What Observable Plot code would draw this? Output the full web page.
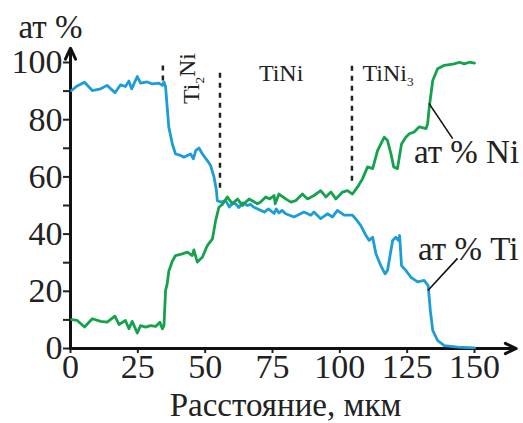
<!DOCTYPE html>
<html>
<head>
<meta charset="utf-8">
<script src="https://cdn.jsdelivr.net/npm/d3@7"></script>
<script src="https://cdn.jsdelivr.net/npm/@observablehq/plot@0.6"></script>
<style>
  html, body { margin: 0; padding: 0; background: #fff; }
  svg text { font-family: "Liberation Serif", "Times New Roman", serif !important; }
</style>
</head>
<body>
<div id="chart"></div>
<script>
// Distance (мкм) and at.% Ti
const tiX = [0.4,2.5,5.2,8.1,11.2,13.6,16.5,18.6,20.4,21.7,22.7,24.8,26,28.5,30.4,32.8,34.1,34.7,35.3,35.9,36.5,37.8,39,40.9,42.1,43.4,44.6,45.6,46.5,47.7,49,50.8,52,53.3,54.2,54.5,55.8,57.6,59,60.2,61.3,62.5,64,65.7,66.8,68.1,70.6,72,73.5,75.6,76.4,77.4,78.5,79.9,83,86.7,89.2,90.4,92.9,95.4,97.3,99.1,101.6,104.7,105.9,107.8,109.7,110.9,112.2,113.4,115.2,116.8,117.7,119.6,120.8,121.7,122.2,122.9,124.5,126.4,128.9,131.3,132.8,133.6,134.5,136.3,138.8,143.7,150];
const tiY = [90.2,91.8,93.1,90.2,90.8,92,89.4,92.2,91.6,93.5,90.8,95.1,92.8,93.2,92.5,92.8,92,93.2,91.5,84.4,77.4,71.5,68,67.5,66.9,67.5,68,66.3,69.2,70.1,68,65.7,64,59.9,55.2,51.7,51.2,51.7,49.5,50.8,50.6,49.3,51,50,50.4,49.4,48.3,47.7,48.8,47.2,48.8,47.4,48.3,47.1,46,47.7,46.6,47.7,45.4,47.1,46,48.3,46.6,46.6,45.3,43,39.5,37.8,38.9,33.1,29,26.1,27.3,37.8,38.9,37.8,39.5,29,27.3,24.9,23.3,23.8,22,13.3,6.3,2.8,1,0.5,0.2];

// Distance (мкм) and at.% Ni
const niX = [0.4,2.5,5.2,8.1,11.2,13.6,16.5,18,20.4,21.7,22.9,24.8,26,27.9,29.7,31.6,33.2,34.1,34.7,35.3,35.9,36.5,37.8,39,41.5,43.4,45.2,45.8,47.1,49,50.8,52.7,53.9,55.1,56.5,58.2,60.1,62,63.8,66.3,69.4,70.6,72.5,74,75.6,76,77.4,79.9,81.8,83.6,86.1,88,90.4,92.9,94.8,96.7,98.5,101,102.8,104.7,106.6,108.4,110.3,112.2,114,116.5,117.7,119,120,121.4,122.9,124.5,125.8,127.6,129.5,132,132.6,133.2,134.5,136.3,138.8,142.5,144.4,146.2,148.1,150];
const niY = [10.1,9.8,7.5,10.4,9.5,9.2,11.3,8.4,9.8,6.9,9.5,5.4,8,7.5,8,7.7,9.2,6.9,8,20.3,22.6,27,30.5,32.5,33.1,33.7,32.5,34.5,30.2,32,36,38.3,44.8,49.4,50.5,53,50.6,52.3,50,52.3,50.6,51.2,53,52.3,53.5,50.6,54,52.3,51.2,51.7,54,52.3,53.5,55.2,53,54.7,52.3,54.7,55.2,54,56.5,59.3,63.5,62.9,69.2,73.9,72.7,68,63.5,62.9,71.5,73.9,75.1,75.7,77.5,76.9,78.6,84.4,93.7,97.8,99,99.5,100.1,99.5,100.1,99.8];

// Ticks
const xTicks = [0, 25, 50, 75, 100, 125, 150];
const yTicks = [0, 20, 40, 60, 80, 100];
const yMinorTicks = [10, 30, 50, 70, 90];

// Phase boundaries (dashed) and phase labels
const boundaryX = [34.3, 55.5, 104.5];
const boundaryY1 = [93.5, 56, 58.5];
const boundaryY2 = [99.7, 98, 100];
const phaseNames = ["Ti2Ni", "TiNi", "TiNi3"];

// Series labels
const seriesNames = ["ат % Ni", "ат % Ti"];

const xTitle = "Расстояние, мкм";
const yTitle = "ат %";

const FONT = "Liberation Serif";
const blue = "#1c9dd9";
const green = "#15a24c";

const ti = tiX.map((x, i) => ({x, y: tiY[i]}));
const ni = niX.map((x, i) => ({x, y: niY[i]}));
const bounds = boundaryX.map((x, i) => ({x, y1: boundaryY1[i], y2: boundaryY2[i]}));

const chart = Plot.plot({
  width: 523,
  height: 423,
  marginLeft: 70,
  marginRight: 49,
  marginTop: 62,
  marginBottom: 75,
  x: {domain: [0, 150]},
  y: {domain: [0, 100]},
  style: {fontFamily: FONT, background: "white", color: "#222"},
  marks: [
    Plot.axisY({ticks: yTicks, tickSize: 7, tickPadding: 1, fontSize: 34, fontFamily: FONT, strokeWidth: 2, label: null, fill: "#222"}),
    Plot.axisY({ticks: yMinorTicks, tickSize: 7, tickFormat: () => "", strokeWidth: 2, label: null}),
    Plot.axisX({ticks: xTicks, tickSize: 5, tickPadding: 0, fontSize: 34, fontFamily: FONT, strokeWidth: 2, label: null, fill: "#222"}),
    Plot.arrow([{x1: 0, y1: 0, x2: 0, y2: 105}], {x1: "x1", y1: "y1", x2: "x2", y2: "y2", stroke: "#111", strokeWidth: 3, headLength: 6, headAngle: 50}),
    Plot.arrow([{x1: 0, y1: 0, x2: 165.5, y2: 0}], {x1: "x1", y1: "y1", x2: "x2", y2: "y2", stroke: "#111", strokeWidth: 3, headLength: 6, headAngle: 50}),
    Plot.ruleX(bounds, {x: "x", y1: "y1", y2: "y2", stroke: "#222", strokeWidth: 2.5, strokeDasharray: "5,5"}),
    Plot.line(ti, {x: "x", y: "y", stroke: blue, strokeWidth: 2.8, curve: "linear"}),
    Plot.line(ni, {x: "x", y: "y", stroke: green, strokeWidth: 2.8, curve: "linear"}),
    Plot.link([{x1: 133.1, y1: 85.7, x2: 141.9, y2: 73.4}, {x1: 132.7, y1: 20.3, x2: 143.7, y2: 31.5}], {x1: "x1", y1: "y1", x2: "x2", y2: "y2", stroke: "#111", strokeWidth: 1.6}),
    Plot.text([seriesNames[0]], {x: 127.5, y: 64.7, text: d => d, textAnchor: "start", lineAnchor: "bottom", fontSize: 33, fontFamily: FONT, fill: "#222"}),
    Plot.text([seriesNames[1]], {x: 129, y: 30.8, text: d => d, textAnchor: "start", lineAnchor: "bottom", fontSize: 33, fontFamily: FONT, fill: "#222"}),
    Plot.text([phaseNames[0]], {x: 44.9, y: 94.4, text: d => d, rotate: -90, textAnchor: "middle", lineAnchor: "middle", fontSize: 24, fontFamily: FONT, fill: "#222"}),
    Plot.text([phaseNames[1]], {x: 78.2, y: 93.4, text: d => d, textAnchor: "middle", lineAnchor: "bottom", fontSize: 24, fontFamily: FONT, fill: "#222"}),
    Plot.text([phaseNames[2]], {x: 108.4, y: 93.4, text: d => d, textAnchor: "start", lineAnchor: "bottom", fontSize: 24, fontFamily: FONT, fill: "#222"}),
    Plot.text([xTitle], {frameAnchor: "bottom", dx: 13, dy: 67, lineAnchor: "bottom", fontSize: 33, fontFamily: FONT, fill: "#222"}),
    Plot.text([yTitle], {frameAnchor: "top-left", dx: -52, dy: -25, textAnchor: "start", lineAnchor: "bottom", fontSize: 33, fontFamily: FONT, fill: "#222"})
  ]
});

d3.select(chart).selectAll("text").attr("font-family", FONT);

// Subscripts for phase names
d3.select(chart).selectAll("text").each(function () {
  const t = this.textContent;
  const m = /^(Ti)(\d?)(Ni)(\d?)$/.exec(t);
  if (!m || (!m[2] && !m[4])) return;
  const el = d3.select(this);
  el.text(null);
  el.append("tspan").text(m[1]);
  if (m[2]) {
    el.append("tspan").attr("font-size", "55%").attr("dy", "0.35em").text(m[2]);
    el.append("tspan").attr("dy", "-0.35em").text(m[3]);
  } else {
    el.append("tspan").text(m[3]);
    el.append("tspan").attr("font-size", "55%").attr("dy", "0.35em").text(m[4]);
  }
});

document.getElementById("chart").appendChild(chart);
</script>
</body>
</html>
